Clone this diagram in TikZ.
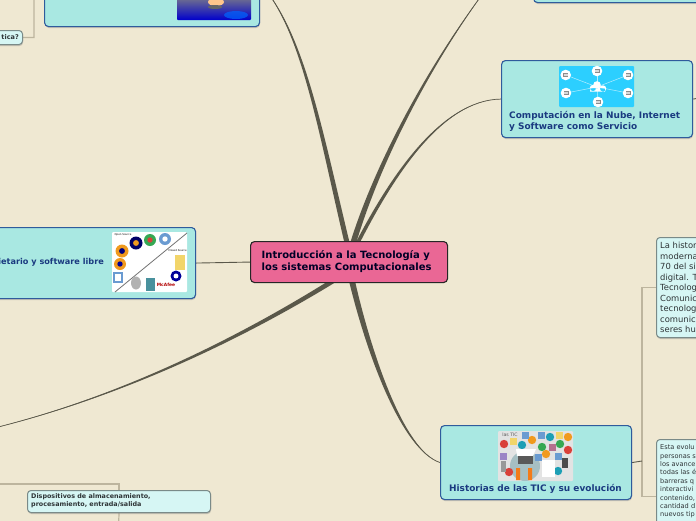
\documentclass[tikz,border=0pt]{standalone}
\usepackage{fontspec}
\setmainfont{DejaVu Sans}
\usetikzlibrary{backgrounds,shadows}
\definecolor{paper}{HTML}{EFE8D2}
\definecolor{linkcol}{HTML}{5A584A}
\definecolor{sublinkcol}{HTML}{BDB59E}
\definecolor{topicfill}{HTML}{A9E8E2}
\definecolor{topicline}{HTML}{2F5B9C}
\definecolor{topictext}{HTML}{1A3A80}
\definecolor{subfill}{HTML}{D6F6F4}
\definecolor{subline}{HTML}{7A8A88}
\definecolor{subtext}{HTML}{2E3436}
\definecolor{rootfill}{HTML}{EA6795}
\definecolor{skyblue}{HTML}{2CCFFF}
\definecolor{icteal}{HTML}{1D9FB5}
\definecolor{icorange}{HTML}{F09A1E}
\definecolor{icred}{HTML}{D9403A}
\definecolor{icgreen}{HTML}{35A853}
\definecolor{icblue}{HTML}{6A9BD1}
\definecolor{icyellow}{HTML}{F2D56A}
\definecolor{icpink}{HTML}{B5708F}
\definecolor{icviolet}{HTML}{9B84C6}
\tikzset{
  topicbox/.style={draw=topicline, fill=topicfill, line width=1.1pt, rounded corners=4pt,
    anchor=north west, inner sep=0pt, drop shadow={shadow xshift=0.5pt, shadow yshift=-1.5pt, opacity=0.35}},
  subbox/.style={draw=subline, fill=subfill, line width=1pt, rounded corners=3.5pt, anchor=north west,
    inner sep=0pt, drop shadow={shadow xshift=0.5pt, shadow yshift=-1.5pt, opacity=0.4}},
  rootbox/.style={draw=black!85, fill=rootfill, line width=1.1pt, rounded corners=4pt, anchor=north west,
    inner sep=0pt},
  topictitle/.style={text=topictext, inner sep=0pt, align=left,
    font=\fontsize{8.95}{11}\selectfont\bfseries},
  sublink/.style={draw=sublinkcol, line width=1.2pt},
  thinlink/.style={draw=linkcol, line width=0.9pt},
  tinytext/.style={inner sep=0pt, font=\fontsize{2.6}{3}\selectfont}
}
% tapered branch: start, control, control, end, half width
\newcommand{\branch}[5]{
  \fill[linkcol] ([xshift=-#5pt]#1) .. controls ([xshift=-0.85*#5pt]#2) and ([xshift=-0.4*#5pt]#3) .. (#4)
    .. controls ([xshift=0.4*#5pt]#3) and ([xshift=0.85*#5pt]#2) .. ([xshift=#5pt]#1) -- cycle;
  \draw[linkcol, line width=0.7pt] (#1) .. controls (#2) and (#3) .. (#4);
}
\begin{document}
\begin{tikzpicture}[x=1pt,y=-1pt]
  \useasboundingbox (0,0) rectangle (696,520);
  % Knoten
  \node[rootbox, minimum width=197pt, minimum height=41pt] (root) at (250,241) {};
  \node[anchor=north west, inner sep=0pt, align=left, text=black!85!blue,
    font=\fontsize{10}{12}\selectfont\bfseries] (roottext) at (261.5,250)
    {Introducción a la Tecnología y\\los sistemas Computacionales};
  \node[topicbox, minimum width=215pt, minimum height=86pt] (topleft) at (44,-60) {};
  \node[topicbox, minimum width=191pt, minimum height=72pt] (topright) at (533,-70) {};
  \node[topicbox, minimum width=191pt, minimum height=77pt] (cloud) at (501,60) {};
  \node[topictitle, anchor=north west] (cloudtext) at (509,111)
    {Computación en la Nube, Internet\\y Software como Servicio};
  \node[topicbox, minimum width=235pt, minimum height=71pt] (soft) at (-40,227) {};
  \node[topictitle, anchor=east, font=\fontsize{8.15}{11}\selectfont\bfseries] (softtext) at (104,262) {pietario y software libre};
  \node[topicbox, minimum width=191pt, minimum height=74pt] (hist) at (440,425) {};
  \node[topictitle, anchor=center] (histtext) at (535.5,488.8) {Historias de las TIC y su evolución};
  \node[subbox, minimum width=120pt, minimum height=100pt] (hista) at (656,237) {};
  \node[anchor=north west, inner sep=0pt, align=left, text=subtext,
    font=\fontsize{8.4}{10.5}\selectfont] (histatext) at (660,242)
    {La histor\\moderna\\70 del si\\digital. T\\Tecnolog\\Comunic\\tecnolog\\comunic\\seres hu};
  \node[subbox, minimum width=120pt, minimum height=114pt] (histb) at (656,439) {};
  \node[anchor=north west, inner sep=0pt, align=left, text=subtext,
    font=\fontsize{6.6}{8.4}\selectfont] (histbtext) at (660,444.5)
    {Esta evolu\\personas s\\los avance\\todas las é\\barreras q\\interactivi\\contenido,\\cantidad d\\nuevos tip};
  \node[subbox, minimum width=183pt, minimum height=22pt] (disp) at (27,490) {};
  \node[anchor=north west, inner sep=0pt, align=left, text=subtext,
    font=\fontsize{6.4}{8.2}\selectfont\bfseries] (disptext) at (31,493)
    {Dispositivos de almacenamiento,\\procesamiento, entrada/salida};
  \node[subbox, minimum width=50pt, minimum height=14pt] (tica) at (-28,30) {};
  \node[anchor=east, inner sep=0pt, text=subtext, font=\fontsize{6.5}{8}\selectfont\bfseries]
    (ticatext) at (19,37) {tica?};
  % Bild Wolke
  \fill[skyblue, rounded corners=1pt] (559,66) rectangle (634,107);
  \foreach \px/\py in {565.7/75,597/71,628/75,566/93,628/93,598/102} {
    \draw[white!65!skyblue, line width=0.5pt] (\px,\py) -- (597,87);
    \fill[white] (\px,\py) circle (5.3);
    \fill[black!45] (\px-2.5,\py-2) rectangle (\px+2.5,\py+1.5);
    \fill[white!85!black] (\px-1.8,\py-1.4) rectangle (\px+1.8,\py+0.9);
  }
  \fill[white] (593,88) circle (3.2) (597,85) circle (3.8) (603,88.5) circle (3.2) (590,88) rectangle (605,91.5);
  % Bild Software
  \fill[white, rounded corners=1pt] (112,232) rectangle (187,292);
  \draw[black!55, line width=0.8pt] (115,292) -- (187,233);
  \foreach \px/\py/\pr/\pc/\pd in {122/251/6.5/icorange/blue!50!black,136/243/6.5/blue!40!black/icorange,150/240/6/icgreen/icred,
      165/239/6/icblue/white,120/264/6/icorange/blue!60!black,176/276/5.5/blue!60!black/white} {
    \fill[\pc] (\px,\py) circle (\pr);
    \fill[\pd] (\px,\py) circle (0.45*\pr);
  }
  \fill[icyellow] (175,255) rectangle (185,270);
  \fill[icblue] (113,272) rectangle (123,283);
  \fill[white] (115,274) rectangle (121,281);
  \fill[black!30] (136,283) ellipse (5 and 6.5);
  \fill[icteal!55!gray] (145.5,278) rectangle (155,291);
  \node[inner sep=0pt, text=red!70!black, font=\fontsize{4.4}{5}\selectfont\bfseries] (mcafee) at (166,284.5) {McAfee};
  \node[tinytext] (opensource) at (123,234.5) {Open Source};
  \node[tinytext] (closedsource) at (177.5,251) {Closed Source};
  % Bild TIC
  \fill[black!11, rounded corners=1pt] (498,431) rectangle (573,481);
  \fill[icteal!35!gray!55] (525,466) circle (15);
  \foreach \px/\py/\pc in {550/437/icteal,568/437/icorange,504/444/icred,522/445/icteal,
      532/440/icorange,542/447/icgreen,560/444/icgreen,568/450/icred,546/454/icorange,
      509/472/icred,558/471/icteal}
    \fill[\pc] (\px,\py) circle (4.2);
  \foreach \px/\py/\pc in {525/435/icblue,541/435/icblue,559/435/icyellow,513/441/icyellow,
      552/447/icpink,503/456/icviolet,538/457/icblue,558/456/icblue}
    \fill[\pc] (\px-3.5,\py-3.5) rectangle (\px+3.5,\py+3.5);
  \fill[white] (516,449) -- (536,449) -- (533,456) -- (517,456) -- cycle;
  \fill[black!65] (518,456) rectangle (533,464);
  \fill[white] (542,460) rectangle (555,477);
  \fill[icorange!80!red] (516,468) rectangle (520,480) (528,468) rectangle (532,480);
  \fill[black!70] (562,458) rectangle (568,468);
  \fill[black!40] (501,461) rectangle (506,472);
  \node[inner sep=0pt, text=black!65, font=\fontsize{4.6}{5}\selectfont] (lastic) at (510,435) {las TIC};
  % Bild oben links
  \shade[top color=black!55!blue!40, bottom color=blue!80!black, middle color=blue!30!black!60, rounded corners=1pt]
    (177,-20) rectangle (251,20);
  \fill[blue!60!cyan, opacity=0.7] (236,15) ellipse (12 and 4);
  \fill[orange!45!white] (216,2) ellipse (8 and 4);
  \fill[black!60] (215,7) ellipse (7 and 2);
  % Verbindungen
  \coordinate (trend) at (490,-16);
  \coordinate (llend) at (-10,429);
  \coordinate (cloudend) at (700,98);
  \coordinate (startleft) at ([xshift=-1.5pt,yshift=-4pt]root.north);
  \coordinate (startright) at ([xshift=3.5pt,yshift=-4pt]root.north);
  \coordinate (startcloud) at ([xshift=7.5pt,yshift=-4pt]root.north);
  \coordinate (startlow) at ([xshift=-13pt,yshift=4pt]root.south);
  \coordinate (startdown) at ([xshift=2.5pt,yshift=4pt]root.south);
  \coordinate (histbus) at (642,461);
  \coordinate (ticabus) at (34,-17);
  \coordinate (dispwest) at (-5,484);
  \coordinate (dispend) at (118.5,530);
  \begin{scope}[on background layer]
    \fill[paper] (-60,-80) rectangle (760,560);
    \branch{startleft}{320,130}{303,30}{topleft.east}{2.6}
    \branch{startright}{375,170}{425,70}{trend}{3}
    \branch{startcloud}{390,180}{440,100}{cloud.west}{2.1}
    \branch{startlow}{230,345}{110,400}{llend}{4.5}
    \branch{startdown}{368,350}{402,450}{hist.west}{3}
    \draw[thinlink] (soft.east) -- (root.west);
    \draw[thinlink] (cloud.east) -- (cloudend);
    \draw[sublink] (histbus) |- (hista.west);
    \draw[sublink] (histbus) |- (histb.west);
    \draw[thinlink] (hist.east) -- (histbus);
    \draw[sublink] (topleft.west) -- (ticabus) |- (tica.east);
    \draw[sublink] (dispwest) -| (disp.north);
    \draw[sublink] (disp.south) -- (dispend);
  \end{scope}
\end{tikzpicture}
\end{document}
